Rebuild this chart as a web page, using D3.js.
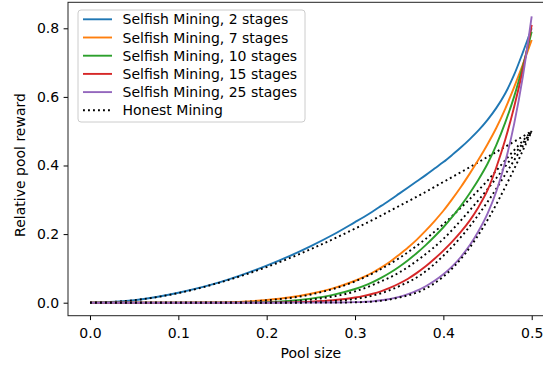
<!DOCTYPE html>
<html>
<head>
<meta charset="utf-8">
<script src="https://cdn.jsdelivr.net/npm/d3@7"></script>
<style>
  body { margin: 0; background: #fff; }
  text { font-family: "DejaVu Sans", sans-serif; }
</style>
</head>
<body>
<div id="chart"></div>
<script>
// pool sizes for the selfish mining runs
const selfishX = [0, 0.05, 0.1, 0.15, 0.2, 0.225, 0.25, 0.275, 0.3,
  0.31, 0.32, 0.33, 0.34, 0.35, 0.36, 0.37, 0.38, 0.39, 0.4,
  0.41, 0.42, 0.43, 0.44, 0.45, 0.46, 0.47, 0.48, 0.49, 0.5]
const selfish2 = [0, 0.007, 0.029, 0.062, 0.108, 0.135, 0.165, 0.198, 0.235,
  0.25, 0.266, 0.283, 0.3, 0.318, 0.336, 0.354, 0.372, 0.391, 0.41,
  0.431, 0.453, 0.477, 0.503, 0.533, 0.568, 0.61, 0.664, 0.73, 0.8]
const selfish7 = [0, 0, 0.0002, 0.001, 0.008, 0.015, 0.026, 0.042, 0.064,
  0.075, 0.088, 0.103, 0.12, 0.14, 0.161, 0.184, 0.21, 0.238, 0.268,
  0.302, 0.338, 0.377, 0.418, 0.462, 0.51, 0.565, 0.628, 0.695, 0.766]
const selfish10 = [0, 0, 0, 0.0001, 0.0015, 0.005, 0.012, 0.023, 0.04,
  0.049, 0.06, 0.073, 0.088, 0.105, 0.124, 0.145, 0.168, 0.193, 0.22,
  0.25, 0.283, 0.32, 0.36, 0.405, 0.46, 0.525, 0.6, 0.69, 0.79]
const selfish15 = [0, 0, 0, 0, 0.0002, 0.001, 0.003, 0.007, 0.015,
  0.02, 0.026, 0.034, 0.044, 0.056, 0.07, 0.087, 0.106, 0.128, 0.152,
  0.178, 0.207, 0.24, 0.28, 0.328, 0.395, 0.475, 0.57, 0.68, 0.81]
const selfish25 = [0, 0, 0, 0, 0, 0.0001, 0.0002, 0.0006, 0.0016,
  0.0025, 0.004, 0.007, 0.011, 0.017, 0.025, 0.035, 0.048, 0.064, 0.083,
  0.106, 0.134, 0.168, 0.21, 0.26, 0.325, 0.41, 0.52, 0.66, 0.835]

// pool sizes for the honest mining curves
const honestX = [0, 0.05, 0.1, 0.15, 0.2, 0.25, 0.3, 0.325, 0.35, 0.375, 0.4, 0.425, 0.45, 0.475, 0.5]
const honest2 = [0, 0.0073, 0.028, 0.061, 0.104, 0.156, 0.216, 0.248, 0.282, 0.316, 0.352, 0.388, 0.425, 0.462, 0.5]
const honest7 = [0, 0, 0.0001, 0.0008, 0.007, 0.024, 0.062, 0.092, 0.13, 0.176, 0.229, 0.29, 0.356, 0.43, 0.5]
const honest10 = [0, 0, 0, 0.0001, 0.001, 0.009, 0.033, 0.057, 0.088, 0.132, 0.186, 0.255, 0.331, 0.414, 0.5]
const honest15 = [0, 0, 0, 0, 0.0001, 0.002, 0.011, 0.024, 0.048, 0.082, 0.137, 0.207, 0.294, 0.394, 0.5]
const honest25 = [0, 0, 0, 0, 0, 0.0001, 0.0011, 0.0045, 0.015, 0.035, 0.076, 0.144, 0.241, 0.363, 0.5]

const stages = [2, 7, 10, 15, 25]
const colors = ['#1f77b4', '#ff7f0e', '#2ca02c', '#d62728', '#9467bd']
const selfishSeries = [selfish2, selfish7, selfish10, selfish15, selfish25]
const honestSeries = [honest2, honest7, honest10, honest15, honest25]

const xTicks = [0, 0.1, 0.2, 0.3, 0.4, 0.5]
const yTicks = [0, 0.2, 0.4, 0.6, 0.8]

let width = 543
let height = 366
let fontSize = '14px'
let svg = d3.select('#chart').append('svg')
  .attr('width', width)
  .attr('height', height)

let x = d3.scaleLinear().domain([-0.0249, 0.525]).range([68, 553.8])
let y = d3.scaleLinear().domain([-0.0379, 0.8758]).range([315.7, 2.3])

let line = d3.line()
  .x((d) => x(d[0]))
  .y((d) => y(d[1]))
  .curve(d3.curveMonotoneX)

let plot = svg.append('g')

stages.forEach((s, i) => {
  plot.append('path')
    .datum(selfishX.map((v, j) => [v, selfishSeries[i][j]]))
    .attr('d', line)
    .attr('fill', 'none')
    .attr('stroke', colors[i])
    .attr('stroke-width', 1.9)
    .attr('stroke-linejoin', 'round')
  plot.append('path')
    .datum(honestX.map((v, j) => [v, honestSeries[i][j]]))
    .attr('d', line)
    .attr('fill', 'none')
    .attr('stroke', '#000')
    .attr('stroke-width', 1.9)
    .attr('stroke-dasharray', '1.9,3.1')
})

// axes
let xAxis = svg.append('g')
  .attr('transform', `translate(0, ${y.range()[0]})`)
  .call(d3.axisBottom(x).tickValues(xTicks).tickFormat(d3.format('.1f'))
    .tickSize(4.4).tickPadding(7.5))
let yAxis = svg.append('g')
  .attr('transform', `translate(${x.range()[0]}, 0)`)
  .call(d3.axisLeft(y).tickValues(yTicks).tickFormat(d3.format('.1f'))
    .tickSize(4.4).tickPadding(4.4))

;[xAxis, yAxis].forEach((a) => {
  a.select('.domain').remove()
  a.selectAll('line').attr('stroke', '#000').attr('stroke-width', 1)
  a.selectAll('text')
    .attr('fill', '#000')
    .style('font-size', fontSize)
    .style('font-family', '"DejaVu Sans", sans-serif')
})

// spines
svg.append('rect')
  .attr('x', x.range()[0])
  .attr('y', y.range()[1])
  .attr('width', x.range()[1] - x.range()[0])
  .attr('height', y.range()[0] - y.range()[1])
  .attr('fill', 'none')
  .attr('stroke', '#222')
  .attr('stroke-width', 1)

svg.append('text')
  .attr('x', (x.range()[0] + x.range()[1]) / 2)
  .attr('y', 358)
  .attr('text-anchor', 'middle')
  .style('font-size', fontSize)
  .text('Pool size')

svg.append('text')
  .attr('transform', 'translate(25, 165) rotate(-90)')
  .attr('text-anchor', 'middle')
  .style('font-size', fontSize)
  .text('Relative pool reward')

// legend
let legend = svg.append('g')
legend.append('rect')
  .attr('x', 78)
  .attr('y', 10)
  .attr('width', 227)
  .attr('height', 112)
  .attr('rx', 3)
  .attr('fill', '#fff')
  .attr('fill-opacity', 0.8)
  .attr('stroke', '#ccc')
  .attr('stroke-width', 1)

let entries = stages.map((s, i) => ({ label: `Selfish Mining, ${s} stages`, color: colors[i], dash: null }))
entries.push({ label: 'Honest Mining', color: '#000', dash: '1.9,3.1' })

let rowH = 18.2
let item = legend.selectAll('.item')
  .data(entries)
  .enter().append('g')
  .attr('class', 'item')
  .attr('transform', (d, i) => `translate(0, ${19.3 + i * rowH})`)

item.append('line')
  .attr('x1', 83)
  .attr('x2', 112)
  .attr('stroke', (d) => d.color)
  .attr('stroke-width', 1.9)
  .attr('stroke-dasharray', (d) => d.dash)

item.append('text')
  .attr('x', 122.5)
  .attr('y', 5)
  .style('font-size', fontSize)
  .text((d) => d.label)
</script>
</body>
</html>
